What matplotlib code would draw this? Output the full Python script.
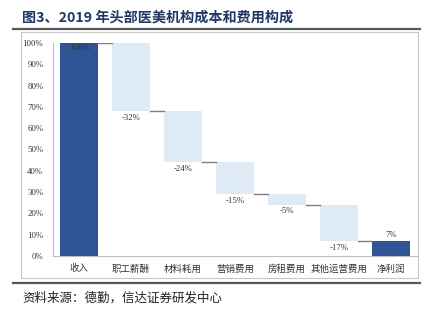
import matplotlib.pyplot as plt
from matplotlib.lines import Line2D
from matplotlib.patches import Rectangle

plt.rcParams['font.family'] = ['Noto Sans CJK SC', 'DejaVu Sans']

# data
categories = ["收入", "职工薪酬", "材料耗用", "营销费用", "房租费用", "其他运营费用", "净利润"]
changes = [100, -32, -24, -15, -5, -17, 7]
labels = ["100%", "-32%", "-24%", "-15%", "-5%", "-17%", "7%"]
yticks = [0, 10, 20, 30, 40, 50, 60, 70, 80, 90, 100]

dark = "#2F5597"
light = "#DEEBF7"

fig = plt.figure(figsize=(4.22, 3.21), dpi=100)
ax = fig.add_axes([53 / 422, 1 - 256 / 321, 364 / 422, 213 / 321])

# waterfall bars
level = 0
bottoms, heights, colors = [], [], []
for i, c in enumerate(changes):
    if i == 0 or i == len(changes) - 1:
        bottoms.append(0)
        heights.append(c)
        colors.append(dark)
        level = c if i == 0 else level
    else:
        bottoms.append(level + c)
        heights.append(-c)
        colors.append(light)
        level = level + c

w = 0.73
x = list(range(len(categories)))
ax.bar(x, heights, bottom=bottoms, width=w, color=colors, linewidth=0)

# connectors
level = changes[0]
for i in range(len(changes) - 1):
    ax.plot([i + w / 2, i + 1 - w / 2], [level, level], color="#7F7F7F", lw=1.0)
    if i + 1 < len(changes) - 1:
        level += changes[i + 1]

# value labels
num_font = dict(family=["Liberation Serif", "DejaVu Serif"], fontsize=6.3, color="#333333")
for i, c in enumerate(changes):
    if i == 0:
        ax.text(i, 100 - 0.6, labels[i], ha="center", va="top", **num_font)
    elif i == len(changes) - 1:
        ax.text(i, c + 1, labels[i], ha="center", va="bottom", **num_font)
    else:
        ax.text(i, bottoms[i] - 1.2, labels[i], ha="center", va="top", **num_font)

ax.set_xlim(-0.5, len(categories) - 0.5)
ax.set_ylim(0, 100)
ax.set_yticks(yticks)
ax.set_yticklabels([f"{t}%" for t in yticks], **num_font)
ax.set_xticks(x)
ax.set_xticklabels(categories, fontsize=6.8, color="#333333")
ax.tick_params(axis="both", length=0, pad=7)
ax.tick_params(axis="x", pad=6)
for s in ["top", "right"]:
    ax.spines[s].set_visible(False)
ax.spines["left"].set_color("#BFBFBF")
ax.spines["bottom"].set_color("#BFBFBF")
ax.spines["left"].set_linewidth(0.8)
ax.spines["bottom"].set_linewidth(0.8)

# chart frame
fig.patches.append(Rectangle((21 / 422, 1 - 278 / 321), 397 / 422, 246 / 321,
                             transform=fig.transFigure, fill=False,
                             edgecolor="#C8C8C8", lw=0.8))

# title and rules
fig.text(22 / 422, 1 - 18 / 321, "图3、2019 年头部医美机构成本和费用构成",
         fontsize=10.2, fontweight="bold", color="#1F3864", va="center")
fig.lines.append(Line2D([13 / 422, 420 / 422], [1 - 29 / 321, 1 - 29 / 321],
                        transform=fig.transFigure, color="#595959", lw=1.6))
fig.lines.append(Line2D([13 / 422, 420 / 422], [1 - 283 / 321, 1 - 283 / 321],
                        transform=fig.transFigure, color="#595959", lw=1.6))
fig.text(22 / 422, 1 - 298 / 321, "资料来源：德勤，信达证券研发中心",
         fontsize=9, color="#222222", va="center")

fig.savefig("out.png", dpi=100)
